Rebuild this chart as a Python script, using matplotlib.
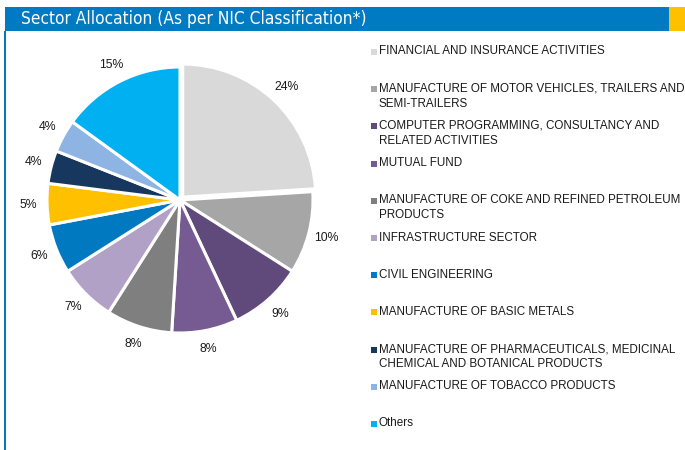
import matplotlib
matplotlib.use("Agg")
import matplotlib.pyplot as plt
from matplotlib.patches import Rectangle

sectors = [
    "FINANCIAL AND INSURANCE ACTIVITIES",
    "MANUFACTURE OF MOTOR VEHICLES, TRAILERS AND\nSEMI-TRAILERS",
    "COMPUTER PROGRAMMING, CONSULTANCY AND\nRELATED ACTIVITIES",
    "MUTUAL FUND",
    "MANUFACTURE OF COKE AND REFINED PETROLEUM\nPRODUCTS",
    "INFRASTRUCTURE SECTOR",
    "CIVIL ENGINEERING",
    "MANUFACTURE OF BASIC METALS",
    "MANUFACTURE OF PHARMACEUTICALS, MEDICINAL\nCHEMICAL AND BOTANICAL PRODUCTS",
    "MANUFACTURE OF TOBACCO PRODUCTS",
    "Others",
]
shares = [24, 10, 9, 8, 8, 7, 6, 5, 4, 4, 15]
colors = ["#D9D9D9", "#A6A6A6", "#604A7B", "#765A92", "#7F7F7F", "#B2A1C7",
          "#0079C1", "#FFC000", "#17375E", "#8DB4E2", "#00B0F0"]
explode = [0.03, 0, 0, 0, 0, 0, 0, 0, 0, 0, 0]
title = "Sector Allocation (As per NIC Classification*)"

W, H = 685, 450
fig = plt.figure(figsize=(W / 100, H / 100), dpi=100)
fig.patch.set_facecolor("white")

def fx(px):
    return px / W

def fy(py):
    return 1 - py / H

# header bar
fig.patches.append(Rectangle((fx(5), fy(31)), fx(669) - fx(5), fy(7) - fy(31),
                             transform=fig.transFigure, facecolor="#007AC2",
                             edgecolor="none"))
fig.patches.append(Rectangle((fx(669), fy(31)), fx(685) - fx(669), fy(7) - fy(31),
                             transform=fig.transFigure, facecolor="#FFC000",
                             edgecolor="none"))
# left border line
fig.patches.append(Rectangle((fx(4), 0), fx(2), fy(31),
                             transform=fig.transFigure, facecolor="#007AC2",
                             edgecolor="none"))
fig.text(fx(21), fy(19.5), title, color="white", fontsize=12.4,
         family="DejaVu Sans", fontstretch="condensed", va="center", ha="left")

# pie
cx, cy, r = 180, 200, 133
lim = 1.3
size = 2 * lim * r
ax = fig.add_axes([fx(cx - size / 2), fy(cy + size / 2), size / W, size / H])
wedges, texts, autotexts = ax.pie(
    shares, colors=colors, explode=explode, startangle=90, counterclock=False,
    autopct="%.0f%%", pctdistance=1.14,
    wedgeprops=dict(edgecolor="white", linewidth=2.2),
    textprops=dict(fontsize=8.8, color="#1a1a1a", family="Liberation Sans"))
ax.set_xlim(-lim, lim)
ax.set_ylim(-lim, lim)
ax.set_aspect("equal")
ax.axis("off")

# legend
y0, step = 52, 37.2
for i, (lab, col) in enumerate(zip(sectors, colors)):
    y = y0 + step * i
    fig.patches.append(Rectangle((fx(371), fy(y + 3)), fx(6), 6 / H,
                                 transform=fig.transFigure, facecolor=col,
                                 edgecolor="none"))
    fig.text(fx(379), fy(y - 6.5), lab, fontsize=8.4, family="Liberation Sans",
             color="#1a1a1a", va="top", ha="left", linespacing=1.32)

fig.savefig("out.png", dpi=100, facecolor="white")
